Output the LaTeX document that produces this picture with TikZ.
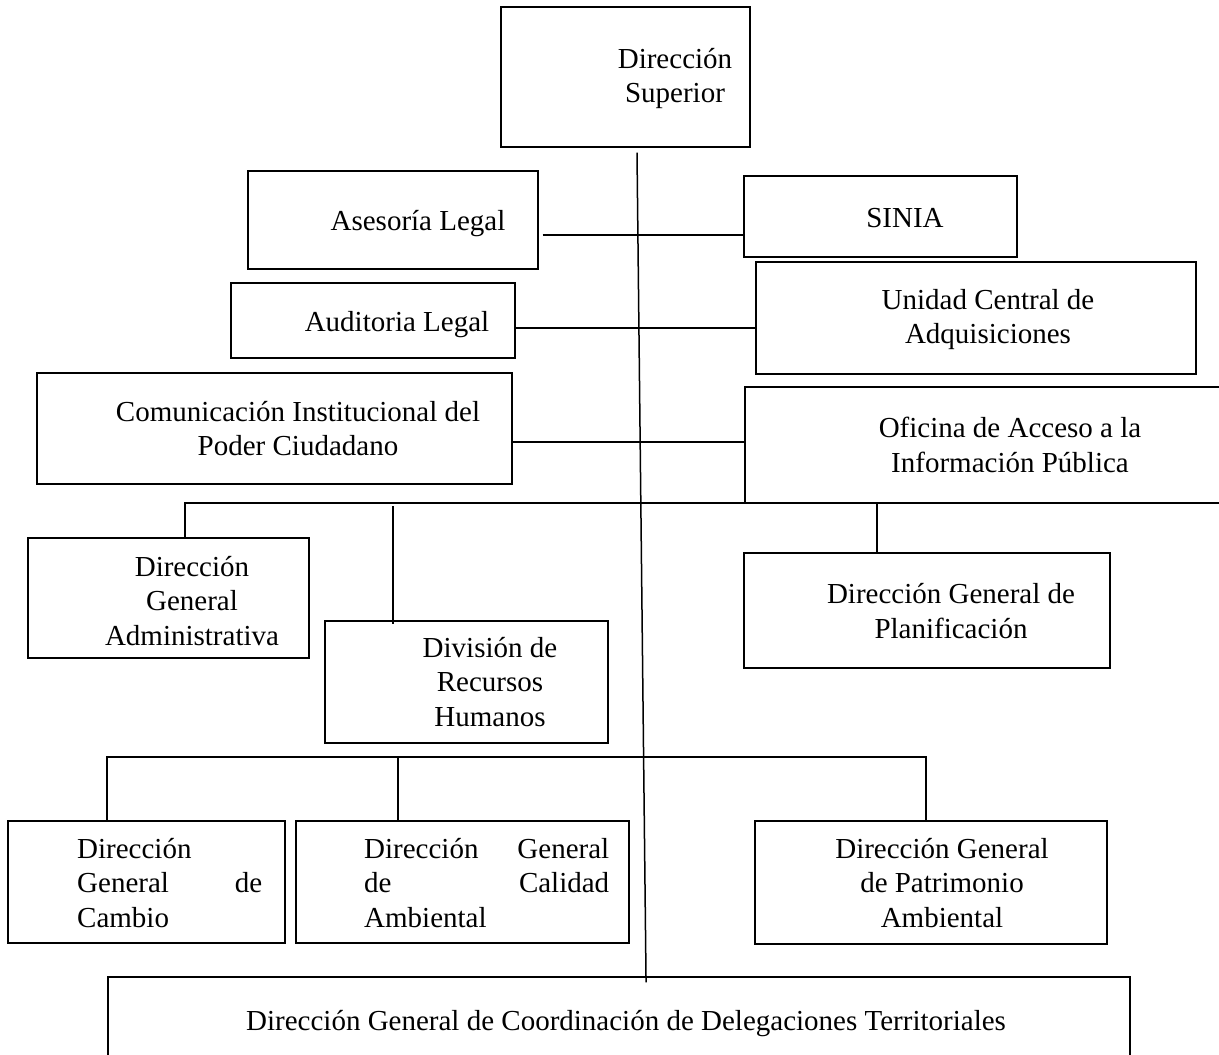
\documentclass[tikz,border=0pt]{standalone}
\usepackage{fontspec}
\setmainfont{Liberation Serif}

\begin{document}
\begin{tikzpicture}[x=1pt, y=-1pt,
  caja/.style={draw, line width=1.1pt, inner sep=0pt},
  txt/.style={align=center, inner sep=0pt, font=\fontsize{29}{34.5}\selectfont},
  linea/.style={line width=1.5pt}]
  \useasboundingbox (0,0) rectangle (1219,1055);

  % Boxes
  \node[caja, minimum width=249pt, minimum height=140pt] (sup) at (625.5,77) {};
  \node[caja, minimum width=290pt, minimum height=98pt] (ase) at (393,220) {};
  \node[caja, minimum width=273pt, minimum height=81pt] (sin) at (880.5,216.5) {};
  \node[caja, minimum width=284pt, minimum height=75pt] (aud) at (373,320.5) {};
  \node[caja, minimum width=440pt, minimum height=112pt] (uni) at (976,318) {};
  \node[caja, minimum width=475pt, minimum height=111pt] (com) at (274.5,428.5) {};
  \node[caja, minimum width=495pt, minimum height=116pt] (ofi) at (992.5,445) {};
  \node[caja, minimum width=281pt, minimum height=120pt] (adm) at (168.5,598) {};
  \node[caja, minimum width=283pt, minimum height=122pt] (div) at (466.5,682) {};
  \node[caja, minimum width=366pt, minimum height=115pt] (plan) at (927,610.5) {};
  \node[caja, minimum width=277pt, minimum height=122pt] (cam) at (146.5,882) {};
  \node[caja, minimum width=333pt, minimum height=122pt] (cal) at (462.5,882) {};
  \node[caja, minimum width=352pt, minimum height=123pt] (pat) at (931,882.5) {};
  \node[caja, minimum width=1022pt, minimum height=103pt] (dgc) at (619,1028.5) {};

  % Texts
  \node[txt, anchor=north] (tsup) at (675,48) {Dirección\\Superior};
  \node[txt, anchor=base] (tase) at (418,230) {Asesoría Legal};
  \node[txt, anchor=base] (tsin) at (905,227) {SINIA};
  \node[txt, anchor=base] (taud) at (397,331) {Auditoria Legal};
  \node[txt, anchor=north] (tuni) at (988,289) {Unidad Central de\\Adquisiciones};
  \node[txt, anchor=north] (tcom) at (298,401) {Comunicación Institucional del\\Poder Ciudadano};
  \node[txt, anchor=north] (tofi) at (1010,417) {Oficina de Acceso a la\\Información Pública};
  \node[txt, anchor=north] (tadm) at (192,556) {Dirección\\General\\Administrativa};
  \node[txt, anchor=north] (tdiv) at (490,637) {División de\\Recursos\\Humanos};
  \node[txt, anchor=north] (tplan) at (951,583.5) {Dirección General de\\Planificación};
  \node[txt, align=left, text width=185pt, anchor=north west] (tcam) at (77,838)
    {Dirección\\General\hfill de\\Cambio};
  \node[txt, align=left, text width=245pt, anchor=north west] (tcal) at (364,838)
    {Dirección\hfill General\\de\hfill Calidad\\Ambiental};
  \node[txt, anchor=north] (tpat) at (942,838) {Dirección General\\de Patrimonio\\Ambiental};
  \node[txt, anchor=base] (tdgc) at (626,1030) {Dirección General de Coordinación de Delegaciones Territoriales};

  % Main line
  \draw[linea] (sup.south -| 637,0) ++(0,5) -- (dgc.north -| 646,0) -- ++(0,6);

  % Side links
  \draw[linea] (ase.east |- 0,235) ++(4,0) -- (sin.west |- 0,235);
  \draw[linea] (aud.east |- 0,328) -- (uni.west |- 0,328);
  \draw[linea] (com.east |- 0,442) -- (ofi.west |- 0,442);

  % Upper bus
  \coordinate (b1i) at (185,503);
  \coordinate (b1m) at (393,506);
  \coordinate (b1d) at (877,503);
  \draw[linea] (adm.north -| b1i) -- (b1i) -- (b1d) -- (plan.north -| b1d);
  \draw[linea] (b1m) -- (div.north -| b1m) -- ++(0,4);

  % Lower bus
  \coordinate (b2i) at (107,757);
  \coordinate (b2m) at (398,757);
  \coordinate (b2d) at (926,757);
  \draw[linea] (cam.north -| b2i) -- (b2i) -- (b2d) -- (pat.north -| b2d);
  \draw[linea] (b2m) -- (cal.north -| b2m);
\end{tikzpicture}
\end{document}
